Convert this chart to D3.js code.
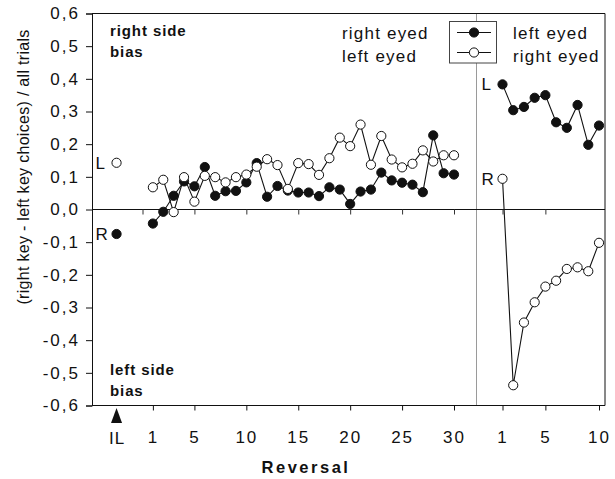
<!DOCTYPE html>
<html><head><meta charset="utf-8">
<script src="https://cdn.jsdelivr.net/npm/d3@7"></script>
<style>
body{margin:0;background:#fff;}
svg{display:block;font-family:"Liberation Sans",Arial,Helvetica,sans-serif;}
</style></head><body>
<svg id="chart" width="615" height="479"></svg>
<script>
// Side bias per reversal: (right key - left key choices) / all trials
// Phase A: reversals 1..30 (filled = right eyed, open = left eyed)
const reversalsA = d3.range(1, 31);
const rightEyedA = [-0.043, -0.007, 0.042, 0.086, 0.071, 0.130, 0.042, 0.056, 0.057, 0.083,
                    0.142, 0.039, 0.072, 0.058, 0.052, 0.052, 0.041, 0.068, 0.061, 0.017,
                    0.055, 0.061, 0.113, 0.089, 0.082, 0.076, 0.053, 0.227, 0.111, 0.107];
const leftEyedA  = [0.068, 0.091, -0.008, 0.099, 0.024, 0.103, 0.099, 0.083, 0.099, 0.107,
                    0.131, 0.154, 0.136, 0.063, 0.142, 0.139, 0.106, 0.157, 0.220, 0.194,
                    0.260, 0.137, 0.225, 0.153, 0.129, 0.140, 0.181, 0.147, 0.166, 0.166];
// Initial learning (IL)
const ilLeftEyed = 0.143;
const ilRightEyed = -0.075;
// Phase B: reversals 1..10 (filled = left eyed, open = right eyed)
const reversalsB = d3.range(1, 11);
const leftEyedB  = [0.383, 0.304, 0.314, 0.342, 0.350, 0.267, 0.250, 0.320, 0.198, 0.257];
const rightEyedB = [0.094, -0.538, -0.346, -0.284, -0.236, -0.218, -0.182, -0.177, -0.189, -0.102];

const yTicks = [0.6, 0.5, 0.4, 0.3, 0.2, 0.1, 0, -0.1, -0.2, -0.3, -0.4, -0.5, -0.6];
const xTicksA = [1, 5, 10, 15, 20, 25, 30];
const xTicksB = [1, 5, 10];
const zeroTicksA = [0, 5, 10, 15, 20, 25, 30];
const zeroTicksB = [1, 5];
const IL_AT = -2.5;  // where the IL column sits, in reversal units of phase A

const svg = d3.select("#chart");
const frame = {left: 92, right: 605, top: 13.5, bottom: 405.5, split: 476.5};

const y = d3.scaleLinear().domain([-0.6, 0.6]).range([frame.bottom, frame.top]);
const xA = d3.scaleLinear().domain([0, 30]).range([142.5, 454]);
const xB = d3.scaleLinear().domain([1, 10]).range([502.5, 599]);
const fmt = d => d3.format(".1f")(d).replace("−", "-").replace("-0.0", "0.0").replace(".", ",");

// panel divider
svg.append("line").attr("x1", frame.split).attr("x2", frame.split)
  .attr("y1", frame.top).attr("y2", frame.bottom)
  .attr("stroke", "#9a9a9a").attr("stroke-width", 1);

// zero line with small ticks
svg.append("line").attr("x1", frame.left).attr("x2", frame.right)
  .attr("y1", y(0)).attr("y2", y(0)).attr("stroke", "#111").attr("stroke-width", 1);
[[xA, zeroTicksA], [xB, zeroTicksB]].forEach(([sc, tv]) => {
  const g = svg.append("g").attr("transform", `translate(0,${y(0)})`)
    .call(d3.axisBottom(sc).tickValues(tv).tickSize(5).tickFormat(""));
  g.select(".domain").remove();
  g.selectAll("line").attr("stroke", "#333");
});

// frame: top and right borders
svg.append("path")
  .attr("d", `M${frame.left},${frame.top}H${frame.right}V${frame.bottom}`)
  .attr("fill", "none").attr("stroke", "#111").attr("stroke-width", 1);

// y axis
const gy = svg.append("g").attr("transform", `translate(${frame.left},0)`)
  .call(d3.axisLeft(y).tickValues(yTicks).tickSize(6).tickPadding(6).tickFormat(fmt));
gy.select(".domain").attr("stroke", "#111");
gy.selectAll(".tick line").attr("stroke", "#111");
gy.selectAll(".tick text").attr("font-size", 17).attr("letter-spacing", 2)
  .attr("fill", "#111").style("font-family", "inherit");

// x axes
function bottomAxis(sc, tv) {
  const g = svg.append("g").attr("transform", `translate(0,${frame.bottom})`)
    .call(d3.axisBottom(sc).tickValues(tv).tickSize(5).tickPadding(20));
  g.select(".domain").remove();
  g.selectAll(".tick line").attr("stroke", "#111");
  g.selectAll(".tick text").attr("font-size", 17).attr("letter-spacing", 2)
    .attr("fill", "#111").style("font-family", "inherit");
  return g;
}
svg.append("line").attr("x1", frame.left).attr("x2", frame.right)
  .attr("y1", frame.bottom).attr("y2", frame.bottom).attr("stroke", "#111");
bottomAxis(xA, xTicksA);
bottomAxis(xB, xTicksB);

// IL marker and label
const ilX = xA(IL_AT);
svg.append("path")
  .attr("d", `M${ilX},${frame.bottom + 2.5}L${ilX - 5.5},${frame.bottom + 17.5}L${ilX + 5.5},${frame.bottom + 17.5}Z`)
  .attr("fill", "#111");
svg.append("text").attr("x", ilX + 0.5).attr("y", frame.bottom + 38.5)
  .attr("text-anchor", "middle").attr("font-size", 17).attr("letter-spacing", 1)
  .attr("fill", "#111").text("IL");

// axis titles
svg.append("text").attr("x", 306).attr("y", 473).attr("text-anchor", "middle")
  .attr("font-size", 16.5).attr("font-weight", "bold").attr("letter-spacing", 2.5)
  .attr("fill", "#111").text("Reversal");
svg.append("text").attr("transform", "translate(29,167) rotate(-90)")
  .attr("text-anchor", "middle").attr("font-size", 16).attr("letter-spacing", 0.3)
  .attr("fill", "#111").text("(right key - left key choices) / all trials");

// bias annotations
const note = (lines, x, y0) => {
  const t = svg.append("text").attr("x", x).attr("y", y0).attr("font-size", 15)
    .attr("font-weight", "bold").attr("letter-spacing", 0.9).attr("fill", "#111");
  lines.forEach((s, i) => t.append("tspan").attr("x", x).attr("dy", i ? 20.5 : 0).text(s));
};
note(["right side", "bias"], 110, 36);
note(["left side", "bias"], 110, 375);

// series
const R = 4.6;
function series(sc, xs, vs, filled) {
  const pts = xs.map((r, i) => ({r, v: vs[i]}));
  svg.append("path").datum(pts)
    .attr("d", d3.line().x(d => sc(d.r)).y(d => y(d.v)))
    .attr("fill", "none").attr("stroke", "#111").attr("stroke-width", 1.1);
  svg.append("g").selectAll("circle").data(pts).join("circle")
    .attr("cx", d => sc(d.r)).attr("cy", d => y(d.v)).attr("r", R)
    .attr("fill", filled ? "#111" : "#fff").attr("stroke", "#111").attr("stroke-width", 1);
}
series(xA, reversalsA, rightEyedA, true);
series(xA, reversalsA, leftEyedA, false);
series(xB, reversalsB, leftEyedB, true);
series(xB, reversalsB, rightEyedB, false);

// IL points
svg.append("circle").attr("cx", ilX).attr("cy", y(ilLeftEyed)).attr("r", R)
  .attr("fill", "#fff").attr("stroke", "#111");
svg.append("circle").attr("cx", ilX).attr("cy", y(ilRightEyed)).attr("r", R)
  .attr("fill", "#111").attr("stroke", "#111");

// L / R tags next to the first points
const tag = (s, x, v) => svg.append("text").attr("x", x - 21).attr("y", y(v) + 6)
  .attr("font-size", 17).attr("fill", "#111").text(s);
tag("L", ilX, ilLeftEyed);
tag("R", ilX, ilRightEyed);
tag("L", xB(reversalsB[0]), leftEyedB[0]);
tag("R", xB(reversalsB[0]), rightEyedB[0]);

// legend
const lg = svg.append("g");
lg.append("rect").attr("x", 449.5).attr("y", 21.5).attr("width", 47).attr("height", 41.5)
  .attr("fill", "#fff").attr("stroke", "#444").attr("stroke-width", 1);
[[32.5, true], [52.5, false]].forEach(([ly, filled]) => {
  lg.append("line").attr("x1", 457).attr("x2", 491).attr("y1", ly).attr("y2", ly)
    .attr("stroke", "#111").attr("stroke-width", 1.1);
  lg.append("circle").attr("cx", 474).attr("cy", ly).attr("r", R)
    .attr("fill", filled ? "#111" : "#fff").attr("stroke", "#111");
});
const legText = (lines, x) => {
  const t = svg.append("text").attr("font-size", 17).attr("letter-spacing", 1.2).attr("fill", "#111");
  lines.forEach((s, i) => t.append("tspan").attr("x", x).attr("y", 38.5 + i * 23).text(s));
};
legText(["right eyed", "left eyed"], 342);
legText(["left eyed", "right eyed"], 513);
</script>
</body></html>
